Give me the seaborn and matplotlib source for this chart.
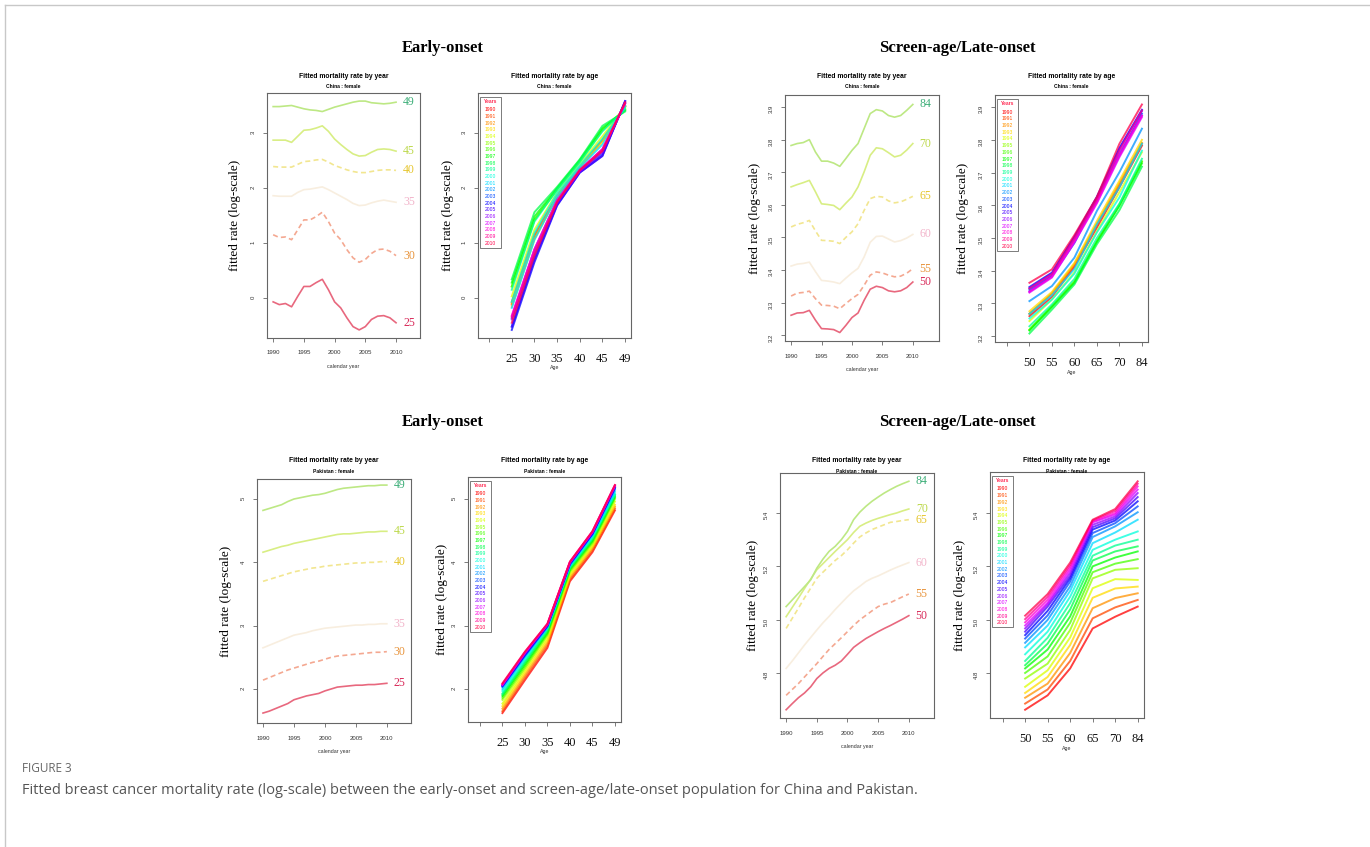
import numpy as np
import pandas as pd
import matplotlib.pyplot as plt
import seaborn as sns
from matplotlib.colors import hsv_to_rgb
from matplotlib.lines import Line2D
from matplotlib.patches import Rectangle

# -----------------------------
# Data
# -----------------------------
years = list(range(1990, 2011))

early_ages = [25, 30, 35, 40, 45, 49]
late_ages = [50, 55, 60, 65, 70, 84]

# China, early-onset
cn_e25 = [-0.07, -0.12, -0.10, -0.16, 0.03, 0.21, 0.21, 0.28, 0.34, 0.15, -0.07,
          -0.18, -0.36, -0.52, -0.58, -0.52, -0.39, -0.33, -0.32, -0.36, -0.45]
cn_e30 = [1.15, 1.10, 1.11, 1.06, 1.24, 1.42, 1.42, 1.48, 1.56, 1.39, 1.18,
          1.06, 0.88, 0.73, 0.65, 0.70, 0.81, 0.88, 0.89, 0.85, 0.77]
cn_e35 = [1.86, 1.85, 1.85, 1.85, 1.92, 1.97, 1.98, 2.00, 2.02, 1.97, 1.91,
          1.85, 1.79, 1.72, 1.68, 1.69, 1.73, 1.76, 1.78, 1.76, 1.74]
cn_e40 = [2.39, 2.38, 2.38, 2.38, 2.43, 2.48, 2.49, 2.51, 2.52, 2.47, 2.41,
          2.37, 2.33, 2.30, 2.28, 2.28, 2.30, 2.32, 2.33, 2.33, 2.32]
cn_e45 = [2.87, 2.87, 2.87, 2.83, 2.94, 3.05, 3.06, 3.09, 3.13, 3.03, 2.89,
          2.79, 2.70, 2.62, 2.58, 2.59, 2.65, 2.70, 2.71, 2.70, 2.67]
cn_e49 = [3.48, 3.48, 3.49, 3.50, 3.47, 3.44, 3.42, 3.41, 3.39, 3.43, 3.47,
          3.50, 3.53, 3.56, 3.58, 3.58, 3.55, 3.54, 3.53, 3.54, 3.56]

# China, screen-age / late-onset
cn_l50 = [3.261, 3.268, 3.269, 3.276, 3.246, 3.220, 3.219, 3.217, 3.208, 3.230, 3.254,
          3.268, 3.307, 3.341, 3.350, 3.346, 3.336, 3.333, 3.336, 3.346, 3.363]
cn_l55 = [3.320, 3.329, 3.331, 3.335, 3.312, 3.292, 3.291, 3.289, 3.281, 3.297, 3.312,
          3.325, 3.353, 3.384, 3.394, 3.391, 3.384, 3.379, 3.381, 3.390, 3.404]
cn_l60 = [3.412, 3.418, 3.420, 3.424, 3.395, 3.368, 3.366, 3.363, 3.358, 3.375, 3.391,
          3.405, 3.440, 3.485, 3.503, 3.504, 3.495, 3.486, 3.490, 3.498, 3.509]
cn_l65 = [3.532, 3.540, 3.545, 3.552, 3.520, 3.491, 3.490, 3.488, 3.481, 3.500, 3.517,
          3.542, 3.583, 3.619, 3.626, 3.624, 3.612, 3.606, 3.609, 3.617, 3.626]
cn_l70 = [3.655, 3.662, 3.668, 3.675, 3.640, 3.603, 3.601, 3.598, 3.585, 3.605, 3.624,
          3.655, 3.701, 3.752, 3.775, 3.772, 3.760, 3.747, 3.752, 3.768, 3.788]
cn_l84 = [3.782, 3.788, 3.791, 3.800, 3.762, 3.734, 3.734, 3.728, 3.718, 3.742, 3.767,
          3.788, 3.834, 3.880, 3.892, 3.888, 3.874, 3.869, 3.874, 3.890, 3.908]

# Pakistan, early-onset
pk_e25 = [1.62, 1.65, 1.69, 1.73, 1.77, 1.83, 1.86, 1.89, 1.91, 1.93, 1.97,
          2.00, 2.03, 2.04, 2.05, 2.06, 2.06, 2.07, 2.07, 2.08, 2.09]
pk_e30 = [2.14, 2.18, 2.22, 2.26, 2.30, 2.33, 2.36, 2.39, 2.42, 2.44, 2.47,
          2.50, 2.52, 2.53, 2.54, 2.55, 2.56, 2.57, 2.58, 2.58, 2.59]
pk_e35 = [2.65, 2.69, 2.73, 2.77, 2.81, 2.85, 2.87, 2.89, 2.92, 2.94, 2.96,
          2.97, 2.98, 2.99, 3.00, 3.01, 3.01, 3.02, 3.02, 3.03, 3.03]
pk_e40 = [3.70, 3.73, 3.76, 3.79, 3.82, 3.85, 3.87, 3.89, 3.91, 3.92, 3.94,
          3.95, 3.96, 3.97, 3.98, 3.99, 3.99, 4.00, 4.00, 4.01, 4.01]
pk_e45 = [4.16, 4.19, 4.22, 4.25, 4.27, 4.30, 4.32, 4.34, 4.36, 4.38, 4.40,
          4.42, 4.44, 4.45, 4.45, 4.46, 4.47, 4.48, 4.48, 4.49, 4.49]
pk_e49 = [4.82, 4.85, 4.88, 4.91, 4.96, 5.00, 5.02, 5.04, 5.06, 5.07, 5.09,
          5.12, 5.15, 5.17, 5.18, 5.19, 5.20, 5.21, 5.21, 5.22, 5.22]

# Pakistan, screen-age / late-onset
pk_l50 = [4.662, 4.685, 4.707, 4.725, 4.748, 4.779, 4.800, 4.817, 4.829, 4.845, 4.870,
          4.896, 4.913, 4.929, 4.942, 4.955, 4.967, 4.978, 4.990, 5.002, 5.015]
pk_l55 = [4.716, 4.738, 4.760, 4.785, 4.810, 4.835, 4.862, 4.888, 4.910, 4.932, 4.955,
          4.978, 4.999, 5.016, 5.033, 5.049, 5.058, 5.064, 5.075, 5.086, 5.096]
pk_l60 = [4.817, 4.845, 4.875, 4.905, 4.933, 4.961, 4.988, 5.012, 5.038, 5.062, 5.086,
          5.108, 5.125, 5.143, 5.155, 5.164, 5.175, 5.186, 5.196, 5.205, 5.214]
pk_l65 = [4.967, 5.005, 5.043, 5.082, 5.118, 5.155, 5.178, 5.200, 5.222, 5.240, 5.262,
          5.287, 5.310, 5.325, 5.338, 5.347, 5.356, 5.365, 5.368, 5.372, 5.375]
pk_l70 = [5.011, 5.046, 5.081, 5.117, 5.152, 5.187, 5.210, 5.233, 5.256, 5.278, 5.300,
          5.327, 5.350, 5.362, 5.372, 5.380, 5.387, 5.394, 5.400, 5.408, 5.415]
pk_l84 = [5.049, 5.074, 5.099, 5.124, 5.149, 5.193, 5.227, 5.256, 5.275, 5.300, 5.331,
          5.375, 5.403, 5.425, 5.444, 5.460, 5.475, 5.488, 5.500, 5.510, 5.519]

cn_early = [cn_e25, cn_e30, cn_e35, cn_e40, cn_e45, cn_e49]
cn_late = [cn_l50, cn_l55, cn_l60, cn_l65, cn_l70, cn_l84]
pk_early = [pk_e25, pk_e30, pk_e35, pk_e40, pk_e45, pk_e49]
pk_late = [pk_l50, pk_l55, pk_l60, pk_l65, pk_l70, pk_l84]

# -----------------------------
# Styles
# -----------------------------
SERIF = "Liberation Serif"
SANS = "Liberation Sans"
year_line_cols = ["#e8687e", "#f4a891", "#f8eedf", "#f2e690", "#d8ee84", "#bde884"]
year_label_cols = ["#d82858", "#e8943c", "#f2b4ca", "#e6c62e", "#bcd84a", "#3cae78"]
year_styles = ["-", (0, (3, 2)), "-", (0, (3, 2)), "-", "-"]
rainbow = {y: hsv_to_rgb((i / 21, 1, 1)) for i, y in enumerate(years)}

W, H = 1370, 847
fig = plt.figure(figsize=(W / 100, H / 100), dpi=100)


def add_ax(x0, y0, x1, y1):
    return fig.add_axes([x0 / W, 1 - y1 / H, (x1 - x0) / W, (y1 - y0) / H])


def base_style(ax, ylim, yticks, ylab_x, yfmt):
    for s in ax.spines.values():
        s.set_color("#666666")
        s.set_linewidth(0.8)
    ax.set_ylim(*ylim)
    ax.set_yticks(yticks)
    ax.set_yticklabels([yfmt.format(t) for t in yticks])
    ax.tick_params(length=3, width=0.6, color="#666666", direction="out")
    ax.tick_params(axis="y", labelrotation=90, labelsize=4.3, labelcolor="#333333", pad=5)
    for t in ax.get_yticklabels():
        t.set_family(SANS)
    ax.set_ylabel("fitted rate (log-scale)", family=SERIF, fontsize=9.5)
    ax.yaxis.set_label_coords(ylab_x, 0.5)
    ax.grid(False)
    ax.set_facecolor("white")


def by_year(ax, series, ages, xlim, ylim, yticks, ylab_x, yfmt):
    for i, (age, vals) in enumerate(zip(ages, series)):
        sns.lineplot(x=years, y=vals, ax=ax, color=year_line_cols[i],
                     linestyle=year_styles[i], lw=1.2)
        ax.text(2012.1, vals[-1], str(age), color=year_label_cols[i],
                fontsize=8.5, family=SERIF, ha="center", va="center")
    base_style(ax, ylim, yticks, ylab_x, yfmt)
    ax.set_xlim(*xlim)
    ax.set_xticks([1990, 1995, 2000, 2005, 2010])
    ax.tick_params(axis="x", labelsize=4.3, labelcolor="#333333", pad=6)
    for t in ax.get_xticklabels():
        t.set_family(SANS)
    ax.set_xlabel("calendar year", family=SANS, fontsize=3.8, color="#333333")
    ax.xaxis.set_label_coords(0.5, -0.105)


def by_age(ax, series, ages, xlim, ylim, yticks, ylab_x, yfmt):
    rows = []
    for j, vals in enumerate(series):
        for y, v in zip(years, vals):
            rows.append({"pos": j + 1, "rate": v, "year": y})
    df = pd.DataFrame(rows)
    sns.lineplot(data=df, x="pos", y="rate", hue="year", palette=rainbow,
                 estimator=None, sort=False, legend=False, lw=1.4, alpha=0.75, ax=ax)
    base_style(ax, ylim, yticks, ylab_x, yfmt)
    ax.set_xlim(*xlim)
    ax.set_xticks(range(0, 7))
    ax.set_xticklabels([""] + [str(a) for a in ages])
    ax.tick_params(axis="x", labelsize=9, labelcolor="#111111", pad=8)
    for t in ax.get_xticklabels():
        t.set_family(SERIF)
    ax.set_xlabel("Age", family=SANS, fontsize=3.8, color="#333333")
    ax.xaxis.set_label_coords(0.5, -0.112)
    # legend box of years
    top, pitch = 0.983, 0.0272
    ax.add_patch(Rectangle((0.013, top - 0.615), 0.135, 0.615, transform=ax.transAxes,
                           fill=False, ec="#666666", lw=0.6))
    ax.text(0.08, top - 0.018, "Years", transform=ax.transAxes, color="#ff2d55",
            fontsize=3.6, family=SANS, ha="center", va="center", fontweight="bold")
    for i, y in enumerate(years):
        ax.text(0.08, top - 0.052 - i * pitch, str(y), transform=ax.transAxes,
                color=rainbow[y], fontsize=3.6, family=SANS, ha="center", va="center")


def titles(ax_x0, ax_x1, y_title, country, kind):
    xc = (ax_x0 + ax_x1) / 2 / W
    fig.text(xc, 1 - y_title / H, "Fitted mortality rate by " + kind,
             family=SANS, fontsize=4.9, fontweight="bold", ha="center", va="center")
    fig.text(xc, 1 - (y_title + 11) / H, country + " : female",
             family=SANS, fontsize=3.6, fontweight="bold", ha="center", va="center")


# -----------------------------
# Panels
# -----------------------------
ax1 = add_ax(267, 93, 420, 338)
by_year(ax1, cn_early, early_ages, (1989.0, 2013.9), (-0.727, 3.727), [0, 1, 2, 3], -0.170, "{:g}")
titles(267, 420, 76, "China", "year")

ax2 = add_ax(478, 93, 631, 338)
by_age(ax2, cn_early, early_ages, (-0.49, 6.26), (-0.727, 3.727), [0, 1, 2, 3], -0.157, "{:g}")
titles(478, 631, 76, "China", "age")

late_ticks_cn = [3.2, 3.3, 3.4, 3.5, 3.6, 3.7, 3.8, 3.9]
ax3 = add_ax(785, 95, 939, 341)
by_year(ax3, cn_late, late_ages, (1989.0, 2014.3), (3.182, 3.937), late_ticks_cn, -0.156, "{:.1f}")
titles(785, 939, 76, "China", "year")

ax4 = add_ax(995, 95, 1148, 342)
by_age(ax4, cn_late, late_ages, (-0.53, 6.27), (3.182, 3.937), late_ticks_cn, -0.170, "{:.1f}")
titles(995, 1148, 76, "China", "age")

ax5 = add_ax(257, 479, 411, 723)
by_year(ax5, pk_early, early_ages, (1989.03, 2013.9), (1.463, 5.316), [2, 3, 4, 5], -0.164, "{:g}")
titles(257, 411, 460, "Pakistan", "year")

ax6 = add_ax(468, 477, 621, 722)
by_age(ax6, pk_early, early_ages, (-0.53, 6.27), (1.479, 5.347), [2, 3, 4, 5], -0.129, "{:g}")
titles(468, 621, 460, "Pakistan", "age")

late_ticks_pk = [4.8, 5.0, 5.2, 5.4]
ax7 = add_ax(780, 473, 934, 718)
by_year(ax7, pk_late, late_ages, (1989.0, 2014.1), (4.631, 5.55), late_ticks_pk, -0.136, "{:.1f}")
titles(780, 934, 460, "Pakistan", "year")

ax8 = add_ax(990, 472, 1144, 718)
by_age(ax8, pk_late, late_ages, (-0.56, 6.28), (4.631, 5.554), late_ticks_pk, -0.156, "{:.1f}")
titles(990, 1144, 460, "Pakistan", "age")

# -----------------------------
# Headings, caption and frame
# -----------------------------
for yy in (48, 422):
    fig.text(443 / W, 1 - yy / H, "Early-onset", family=SERIF, fontsize=12,
             fontweight="bold", ha="center", va="center")
    fig.text(957 / W, 1 - yy / H, "Screen-age/Late-onset", family=SERIF, fontsize=12,
             fontweight="bold", ha="center", va="center")

fig.text(22 / W, 1 - 768 / H, "FIGURE 3", family="Open Sans", fontsize=8.5,
         color="#666666", ha="left", va="center")
fig.text(22 / W, 1 - 790 / H,
         "Fitted breast cancer mortality rate (log-scale) between the early-onset and "
         "screen-age/late-onset population for China and Pakistan.",
         family="Open Sans", fontsize=10.5, color="#555555", ha="left", va="center")

fig.add_artist(Line2D([5 / W, 5 / W], [0, 1 - 5 / H], transform=fig.transFigure,
                      color="#c8c8c8", lw=1))
fig.add_artist(Line2D([5 / W, 1], [1 - 5 / H, 1 - 5 / H], transform=fig.transFigure,
                      color="#c8c8c8", lw=1))

fig.savefig("out.png", dpi=100, facecolor="white")
